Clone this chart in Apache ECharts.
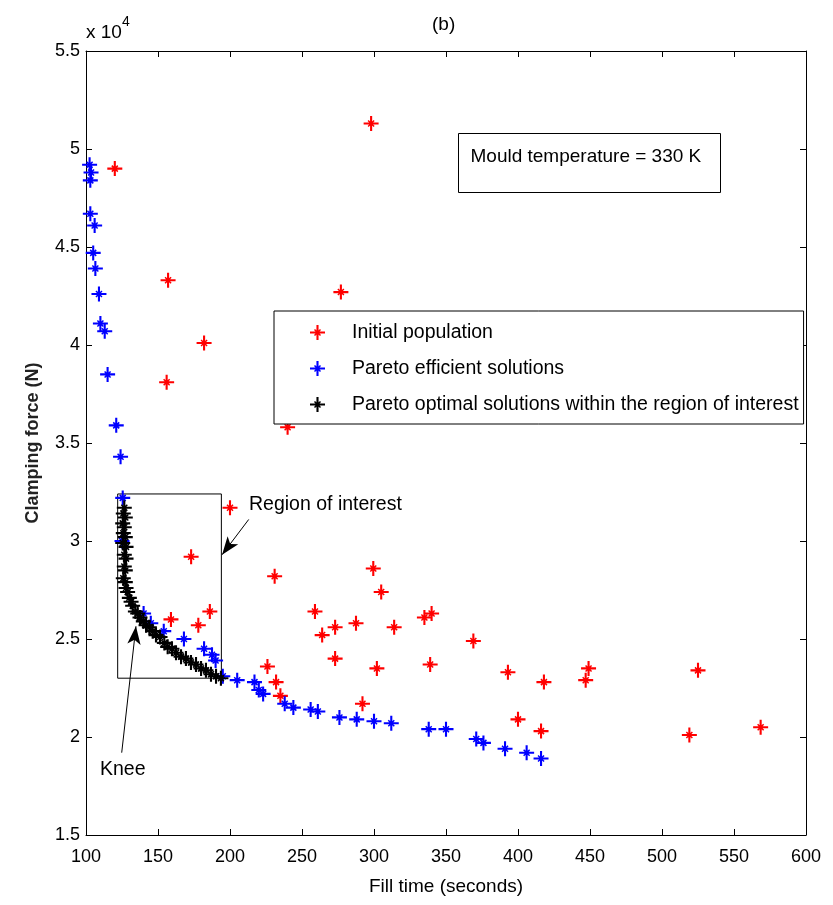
<!DOCTYPE html>
<html>
<head>
<meta charset="utf-8">
<script src="https://cdn.jsdelivr.net/npm/echarts@6/dist/echarts.min.js"></script>
<style>
  html, body { margin: 0; padding: 0; background: #fff; }
  #chart { width: 833px; height: 905px; }
</style>
</head>
<body>
<div id="chart"></div>
<script>
  // fill time (s) and clamping force (x 10^4 N)
  var initTime  = [120, 298, 157, 277, 182, 156, 240, 200, 173, 231, 186, 159, 178, 226, 232, 235,
                   299.5, 305, 259, 273, 264, 287.5, 314, 335, 340, 369, 273, 302, 339, 393, 418,
                   292, 400, 416, 449, 447, 525, 519, 568.5];
  var initForce = [4.90, 5.13, 4.33, 4.27, 4.01, 3.81, 3.58, 3.17, 2.92, 2.82, 2.64, 2.60, 2.57, 2.36, 2.28, 2.21,
                   2.86, 2.74, 2.64, 2.56, 2.52, 2.58, 2.56, 2.61, 2.63, 2.49, 2.40, 2.35, 2.37, 2.33, 2.28,
                   2.17, 2.09, 2.03, 2.35, 2.29, 2.34, 2.01, 2.05];

  var effTime  = [102.5, 103.5, 103, 103, 106, 105, 106.5, 109, 110, 113, 115, 121, 124, 125.5, 125,
                  140, 145, 154, 168, 182, 187.5, 190, 195, 205, 217, 220, 223, 238, 244, 256, 261,
                  276, 288, 300, 312, 338, 350, 371, 376, 391, 406, 416];
  var effForce = [4.92, 4.88, 4.84, 4.67, 4.61, 4.47, 4.39, 4.26, 4.11, 4.07, 3.85, 3.59, 3.43, 3.22, 3.00,
                  2.63, 2.58, 2.54, 2.50, 2.45, 2.42, 2.39, 2.31, 2.29, 2.28, 2.24, 2.22, 2.17, 2.15, 2.14, 2.13,
                  2.10, 2.09, 2.08, 2.07, 2.04, 2.04, 1.99, 1.97, 1.94, 1.92, 1.89];

  var optTime  = [126.6, 125.9, 127.3, 125.5, 126.6, 125.9, 127.3, 125.5, 127.8, 126.6, 127.8, 126.6, 127.3,
                  125.9, 127.3, 127.8, 128.9, 130.1, 131.3, 132.4, 134.3, 135.9, 137.5, 139.8, 141.7, 144.0,
                  146.3, 148.6, 151.4, 154.4, 156.7, 159.7, 162.5, 166.0, 169.4, 172.9, 176.4, 179.9, 183.3,
                  186.8, 190.3, 193.7];
  var optForce = [3.17, 3.14, 3.12, 3.09, 3.07, 3.04, 3.02, 2.99, 2.97, 2.93, 2.91, 2.87, 2.85,
                  2.81, 2.79, 2.76, 2.74, 2.71, 2.69, 2.67, 2.64, 2.63, 2.61, 2.59, 2.57, 2.56,
                  2.54, 2.52, 2.51, 2.48, 2.46, 2.45, 2.43, 2.41, 2.40, 2.38, 2.37, 2.35, 2.34,
                  2.32, 2.31, 2.30];

  var xTicks = { min: 100, max: 600, step: 50 };
  var yTicks = { min: 1.5, max: 5.5, step: 0.5 };

  // region of interest box and arrows (data coords)
  var roiBox   = [[122, 3.24], [194, 2.30]];
  var roiArrow = [[213, 3.11], [194.5, 2.93]];
  var kneeArrow = [[124.8, 1.92], [134.7, 2.565]];

  function zip(a, b) {
    return a.map(function (v, i) { return [v, b[i]]; });
  }

  var font = '"Liberation Sans", Arial, sans-serif';
  // matlab-like '*' marker: thick plus with thinner diagonals
  var star = 'path://M8.6,0L11.4,0L11.4,20L8.6,20Z M0,8.6L20,8.6L20,11.4L0,11.4Z ' +
             'M5.3,6.7L6.7,5.3L14.7,13.3L13.3,14.7Z M5.3,13.3L13.3,5.3L14.7,6.7L6.7,14.7Z';

  var chart = echarts.init(document.getElementById('chart'));

  chart.setOption({
    backgroundColor: '#fff',
    animation: false,
    textStyle: { fontFamily: font },
    grid: { left: 86, right: 27, top: 51, bottom: 70 },
    legend: {
      left: 274, top: 311,
      orient: 'vertical',
      padding: [11, 5, 9, 36],
      itemGap: 15,
      itemWidth: 15, itemHeight: 15,
      borderColor: '#000', borderWidth: 1,
      backgroundColor: '#fff',
      textStyle: { fontFamily: font, fontSize: 19.5, color: '#000', padding: [0, 0, 0, 22], lineHeight: 21 },
      data: [
        { name: 'Initial population', icon: star },
        { name: 'Pareto efficient solutions', icon: star },
        { name: 'Pareto optimal solutions within the region of interest', icon: star }
      ]
    },
    xAxis: [{
      type: 'value', min: xTicks.min, max: xTicks.max, interval: xTicks.step,
      name: 'Fill time (seconds)', nameLocation: 'middle', nameGap: 42,
      nameTextStyle: { fontFamily: font, fontSize: 19, color: '#000' },
      axisLine: { lineStyle: { color: '#000', width: 1 } },
      axisTick: { inside: true, length: 6, lineStyle: { color: '#000' } },
      axisLabel: { fontFamily: font, fontSize: 18, color: '#000', margin: 13 },
      splitLine: { show: false }
    }, {
      type: 'value', position: 'top', min: xTicks.min, max: xTicks.max, interval: xTicks.step,
      axisLine: { show: true, lineStyle: { color: '#000', width: 1 } },
      axisTick: { inside: true, length: 6, lineStyle: { color: '#000' } },
      axisLabel: { show: false },
      splitLine: { show: false }
    }],
    yAxis: [{
      type: 'value', min: yTicks.min, max: yTicks.max, interval: yTicks.step,
      name: 'Clamping force (N)', nameLocation: 'middle', nameGap: 44,
      nameTextStyle: { fontFamily: font, fontSize: 18, fontWeight: 'bold', color: '#222' },
      axisLine: { show: true, lineStyle: { color: '#000', width: 1 } },
      axisTick: { inside: true, length: 6, lineStyle: { color: '#000' } },
      axisLabel: { fontFamily: font, fontSize: 18, color: '#000', margin: 6 },
      splitLine: { show: false }
    }, {
      type: 'value', position: 'right', min: yTicks.min, max: yTicks.max, interval: yTicks.step,
      axisLine: { show: true, lineStyle: { color: '#000', width: 1 } },
      axisTick: { inside: true, length: 6, lineStyle: { color: '#000' } },
      axisLabel: { show: false },
      splitLine: { show: false }
    }],
    series: [{
      name: 'Initial population',
      type: 'scatter',
      symbol: star, symbolSize: 15,
      itemStyle: { color: '#ff0000', opacity: 1 },
      data: zip(initTime, initForce)
    }, {
      name: 'Pareto efficient solutions',
      type: 'scatter',
      symbol: star, symbolSize: 15,
      itemStyle: { color: '#0000ff', opacity: 1 },
      data: zip(effTime, effForce)
    }, {
      name: 'Pareto optimal solutions within the region of interest',
      type: 'scatter',
      symbol: star, symbolSize: 15,
      itemStyle: { color: '#000', opacity: 1 },
      data: zip(optTime, optForce),
      markArea: {
        silent: true,
        itemStyle: { color: 'rgba(0,0,0,0)', borderColor: '#000', borderWidth: 1 },
        data: [[{ coord: roiBox[0] }, { coord: roiBox[1] }]]
      },
      markLine: {
        silent: true,
        symbol: ['none', 'arrow'],
        symbolSize: [10, 18],
        label: { show: false },
        lineStyle: { color: '#000', width: 1, type: 'solid' },
        data: [
          [{ coord: roiArrow[0] }, { coord: roiArrow[1] }],
          [{ coord: kneeArrow[0] }, { coord: kneeArrow[1] }]
        ]
      }
    }],
    graphic: [
      {
        type: 'text', left: 86, top: 15,
        style: {
          text: '{a|x 10}{b|4}',
          rich: {
            a: { fontFamily: font, fontSize: 19, fill: '#000', padding: [8, 0, 0, 0] },
            b: { fontFamily: font, fontSize: 14, fill: '#000', verticalAlign: 'top' }
          }
        }
      },
      { type: 'text', left: 432, top: 15, style: { text: '(b)', fontFamily: font, fontSize: 19, fill: '#000' } },
      {
        type: 'group', left: 458, top: 133,
        children: [
          { type: 'rect', shape: { x: 0, y: 0, width: 262, height: 59 },
            style: { fill: '#fff', stroke: '#000', lineWidth: 1 } },
          { type: 'text', x: 12, y: 14,
            style: { text: 'Mould temperature = 330 K', fontFamily: font, fontSize: 19, fill: '#000' } }
        ]
      },
      { type: 'text', left: 249, top: 495, style: { text: 'Region of interest', fontFamily: font, fontSize: 19.5, fill: '#000' } },
      { type: 'text', left: 100, top: 760, style: { text: 'Knee', fontFamily: font, fontSize: 19.5, fill: '#000' } }
    ]
  });
</script>
</body>
</html>
